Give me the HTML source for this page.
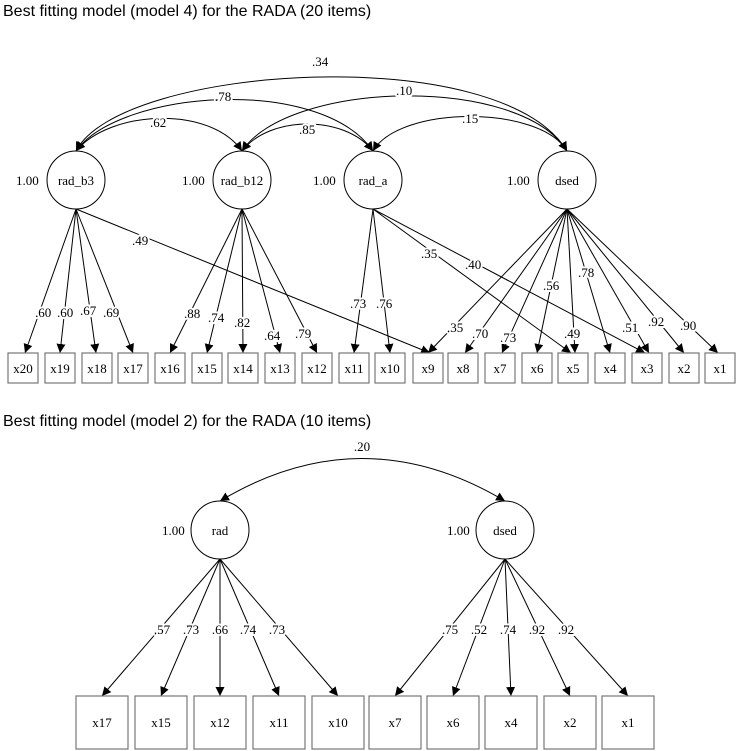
<!DOCTYPE html>
<html><head><meta charset="utf-8"><style>
html,body{margin:0;padding:0;background:#fff;}
svg{display:block;}
.t{font-family:"Liberation Serif",serif;font-size:13px;fill:#000;}
.lb{font-family:"Liberation Serif",serif;font-size:13px;fill:#000;paint-order:stroke;stroke:#fff;stroke-width:4px;}
.ti{font-family:"Liberation Sans",sans-serif;font-size:16px;fill:#000;}
.l{stroke:#000;stroke-width:1;fill:none;}
.b{stroke:#777;stroke-width:1.2;fill:#fff;}
</style></head><body>
<svg width="741" height="751" viewBox="0 0 741 751" xmlns="http://www.w3.org/2000/svg">
<defs>
<marker id="a" viewBox="0 0 10 10" refX="10" refY="5" markerWidth="9" markerHeight="9" markerUnits="userSpaceOnUse" orient="auto-start-reverse"><path d="M0,0 L10,5 L0,10 z" fill="#000"/></marker>
</defs>
<text class="ti" x="3" y="16">Best fitting model (model 4) for the RADA (20 items)</text>

<!-- covariance arcs top -->
<g class="l" marker-start="url(#a)" marker-end="url(#a)">
<path d="M76,151 C120,65 500,40 567,151"/>
<path d="M76,151 C120,90 320,75 373,151"/>
<path d="M76,151 C110,110 210,105 242,151"/>
<path d="M242,151 C290,80 520,75 567,151"/>
<path d="M242,151 C270,115 345,115 373,151"/>
<path d="M373,151 C400,105 540,105 567,151"/>
</g>
<text class="t" x="312" y="66">.34</text>
<text class="lb" x="215" y="101">.78</text>
<text class="lb" x="396" y="95">.10</text>
<text class="lb" x="150" y="127">.62</text>
<text class="lb" x="299" y="134">.85</text>
<text class="lb" x="462" y="123">.15</text>

<!-- latent circles top -->
<g class="l">
<circle cx="76" cy="180" r="29"/><circle cx="242" cy="180" r="29"/>
<circle cx="373" cy="180" r="29"/><circle cx="567" cy="180" r="29"/>
</g>
<text class="t" x="76" y="185" text-anchor="middle">rad_b3</text>
<text class="t" x="242" y="185" text-anchor="middle">rad_b12</text>
<text class="t" x="373" y="185" text-anchor="middle">rad_a</text>
<text class="t" x="567" y="185" text-anchor="middle">dsed</text>
<text class="t" x="16" y="185">1.00</text>
<text class="t" x="182" y="185">1.00</text>
<text class="t" x="313" y="185">1.00</text>
<text class="t" x="507" y="185">1.00</text>

<!-- loadings top -->
<g class="l" marker-end="url(#a)">
<path d="M76,209 L25,353"/><path d="M76,209 L60,353"/><path d="M76,209 L96,353"/><path d="M76,209 L133,353"/>
<path d="M76,209 L430,353"/>
<path d="M242,209 L170,353"/><path d="M242,209 L207,353"/><path d="M242,209 L243,353"/><path d="M242,209 L280,353"/><path d="M242,209 L317,353"/>
<path d="M373,209 L354,353"/><path d="M373,209 L390,353"/><path d="M373,209 L571,353"/><path d="M373,209 L645,353"/>
<path d="M567,209 L428,353"/><path d="M567,209 L465,353"/><path d="M567,209 L502,353"/><path d="M567,209 L537,353"/><path d="M567,209 L575,353"/><path d="M567,209 L610,353"/><path d="M567,209 L649,353"/><path d="M567,209 L684,353"/><path d="M567,209 L718,353"/>
</g>
<text class="lb" x="35" y="317">.60</text>
<text class="lb" x="57" y="317">.60</text>
<text class="lb" x="80" y="315">.67</text>
<text class="lb" x="103" y="317">.69</text>
<text class="lb" x="132" y="245">.49</text>
<text class="lb" x="184" y="318">.88</text>
<text class="lb" x="208" y="322">.74</text>
<text class="lb" x="234" y="327">.82</text>
<text class="lb" x="264" y="340">.64</text>
<text class="lb" x="295" y="338">.79</text>
<text class="lb" x="350" y="308">.73</text>
<text class="lb" x="376" y="308">.76</text>
<text class="lb" x="421" y="258">.35</text>
<text class="lb" x="465" y="269">.40</text>
<text class="lb" x="447" y="332">.35</text>
<text class="lb" x="472" y="338">.70</text>
<text class="lb" x="500" y="342">.73</text>
<text class="lb" x="543" y="290">.56</text>
<text class="lb" x="564" y="338">.49</text>
<text class="lb" x="578" y="277">.78</text>
<text class="lb" x="622" y="332">.51</text>
<text class="lb" x="648" y="326">.92</text>
<text class="lb" x="680" y="330">.90</text>

<!-- boxes top -->
<g class="b">
<rect x="8" y="353" width="30" height="30"/><rect x="45" y="353" width="30" height="30"/><rect x="82" y="353" width="30" height="30"/><rect x="118" y="353" width="30" height="30"/>
<rect x="155" y="353" width="30" height="30"/><rect x="192" y="353" width="30" height="30"/><rect x="228" y="353" width="30" height="30"/><rect x="265" y="353" width="30" height="30"/>
<rect x="302" y="353" width="30" height="30"/><rect x="339" y="353" width="30" height="30"/><rect x="375" y="353" width="30" height="30"/><rect x="413" y="353" width="30" height="30"/>
<rect x="448" y="353" width="30" height="30"/><rect x="485" y="353" width="30" height="30"/><rect x="522" y="353" width="30" height="30"/><rect x="558" y="353" width="30" height="30"/>
<rect x="595" y="353" width="30" height="30"/><rect x="632" y="353" width="30" height="30"/><rect x="669" y="353" width="30" height="30"/><rect x="705" y="353" width="30" height="30"/>
</g>
<g class="t" text-anchor="middle">
<text x="23" y="373">x20</text><text x="60" y="373">x19</text><text x="97" y="373">x18</text><text x="133" y="373">x17</text>
<text x="170" y="373">x16</text><text x="207" y="373">x15</text><text x="243" y="373">x14</text><text x="280" y="373">x13</text>
<text x="317" y="373">x12</text><text x="354" y="373">x11</text><text x="390" y="373">x10</text><text x="428" y="373">x9</text>
<text x="463" y="373">x8</text><text x="500" y="373">x7</text><text x="537" y="373">x6</text><text x="573" y="373">x5</text>
<text x="610" y="373">x4</text><text x="647" y="373">x3</text><text x="684" y="373">x2</text><text x="720" y="373">x1</text>
</g>

<!-- bottom diagram -->
<text class="ti" x="3" y="426">Best fitting model (model 2) for the RADA (10 items)</text>
<path class="l" d="M220,501 Q362,416 505,501" marker-start="url(#a)" marker-end="url(#a)"/>
<text class="t" x="362" y="451" text-anchor="middle">.20</text>
<circle class="l" cx="220" cy="530" r="29"/><circle class="l" cx="505" cy="530" r="29"/>
<text class="t" x="220" y="535" text-anchor="middle">rad</text>
<text class="t" x="505" y="535" text-anchor="middle">dsed</text>
<text class="t" x="162" y="535">1.00</text>
<text class="t" x="447" y="535">1.00</text>
<g class="l" marker-end="url(#a)">
<path d="M220,559 L102,696"/><path d="M220,559 L161,696"/><path d="M220,559 L220,696"/><path d="M220,559 L279,696"/><path d="M220,559 L338,696"/>
<path d="M505,559 L395,696"/><path d="M505,559 L453,696"/><path d="M505,559 L511,696"/><path d="M505,559 L570,696"/><path d="M505,559 L628,696"/>
</g>
<text class="lb" x="162" y="634" text-anchor="middle">.57</text>
<text class="lb" x="191" y="634" text-anchor="middle">.73</text>
<text class="lb" x="220" y="634" text-anchor="middle">.66</text>
<text class="lb" x="248" y="634" text-anchor="middle">.74</text>
<text class="lb" x="277" y="634" text-anchor="middle">.73</text>
<text class="lb" x="450" y="634" text-anchor="middle">.75</text>
<text class="lb" x="479" y="634" text-anchor="middle">.52</text>
<text class="lb" x="508" y="634" text-anchor="middle">.74</text>
<text class="lb" x="537" y="634" text-anchor="middle">.92</text>
<text class="lb" x="566" y="634" text-anchor="middle">.92</text>
<g class="b">
<rect x="76" y="696" width="52" height="53"/><rect x="135" y="696" width="52" height="53"/><rect x="194" y="696" width="52" height="53"/><rect x="253" y="696" width="52" height="53"/><rect x="312" y="696" width="52" height="53"/>
<rect x="369" y="696" width="52" height="53"/><rect x="427" y="696" width="52" height="53"/><rect x="485" y="696" width="52" height="53"/><rect x="544" y="696" width="52" height="53"/><rect x="602" y="696" width="52" height="53"/>
</g>
<g class="t" text-anchor="middle">
<text x="102" y="727">x17</text><text x="161" y="727">x15</text><text x="220" y="727">x12</text><text x="279" y="727">x11</text><text x="338" y="727">x10</text>
<text x="395" y="727">x7</text><text x="453" y="727">x6</text><text x="511" y="727">x4</text><text x="570" y="727">x2</text><text x="628" y="727">x1</text>
</g>
</svg>
</body></html>
